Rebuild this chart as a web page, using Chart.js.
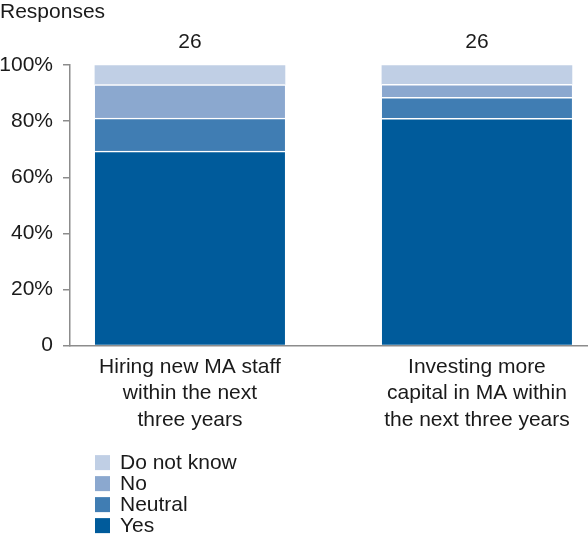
<!DOCTYPE html>
<html>
<head>
<meta charset="utf-8">
<script src="https://cdn.jsdelivr.net/npm/chart.js@4.4.0/dist/chart.umd.min.js"></script>
<style>
  html, body { margin: 0; padding: 0; background: #fff; }
  #wrap { width: 588px; height: 535px; }
</style>
</head>
<body>
<div id="wrap"><canvas id="responsesChart"></canvas></div>
<script>
// DATA
const categories = [
  ['Hiring new MA staff', 'within the next', 'three years'],
  ['Investing more', 'capital in MA within', 'the next three years']
];
const respondents = [26, 26];
const yesValues = [69.4, 81.0];
const neutralValues = [11.7, 7.5];
const noValues = [12.0, 4.7];
const dontKnowValues = [6.9, 6.8];
const yTicks = [0, 20, 40, 60, 80, 100];

const FONT = 'Liberation Sans';
const SIZE = 21;
const TEXT = '#1a1a1a';
const AXIS = '#8c8c8c';
const sep = {top: 1.5, left: 0, right: 0, bottom: 0};

function points(values) {
  return values.map((v, i) => ({x: i, y: v}));
}

// "26" above each bar
const totalLabels = {
  id: 'totalLabels',
  afterDatasetsDraw(chart) {
    const ctx = chart.ctx;
    const meta = chart.getDatasetMeta(chart.data.datasets.length - 1);
    ctx.save();
    ctx.font = SIZE + 'px "' + FONT + '"';
    ctx.fillStyle = TEXT;
    ctx.textAlign = 'center';
    ctx.textBaseline = 'middle';
    meta.data.forEach((bar, i) => {
      ctx.fillText(String(respondents[i]), bar.x, bar.y - 23);
    });
    ctx.restore();
  }
};

// legend stacked one item per row, below the axis labels
const stackedLegend = {
  id: 'stackedLegend',
  afterDraw(chart) {
    const ctx = chart.ctx;
    const sets = chart.data.datasets.slice().reverse();
    ctx.save();
    ctx.font = SIZE + 'px "' + FONT + '"';
    ctx.textAlign = 'left';
    ctx.textBaseline = 'middle';
    sets.forEach((ds, i) => {
      const y = chart.chartArea.bottom + 117 + i * 21;
      ctx.fillStyle = ds.backgroundColor;
      ctx.fillRect(95, y - 7.5, 15, 15);
      ctx.fillStyle = TEXT;
      ctx.fillText(ds.label, 120, y + 1);
    });
    ctx.restore();
  }
};

const data = {
  datasets: [
    {label: 'Yes', data: points(yesValues), backgroundColor: '#005B9B', borderColor: '#ffffff', borderWidth: sep},
    {label: 'Neutral', data: points(neutralValues), backgroundColor: '#407DB3', borderColor: '#ffffff', borderWidth: sep},
    {label: 'No', data: points(noValues), backgroundColor: '#8BA8CF', borderColor: '#ffffff', borderWidth: sep},
    {label: 'Do not know', data: points(dontKnowValues), backgroundColor: '#C0CFE5', borderWidth: 0}
  ]
};

const config = {
  type: 'bar',
  data: data,
  plugins: [totalLabels, stackedLegend],
  options: {
    responsive: true,
    maintainAspectRatio: false,
    animation: false,
    barThickness: 190,
    layout: {padding: {top: 0, right: 0, bottom: 94, left: 0}},
    plugins: {
      legend: {display: false},
      tooltip: {enabled: false},
      title: {
        display: true,
        text: 'Responses',
        align: 'start',
        color: TEXT,
        font: {family: FONT, size: SIZE, weight: 'normal', lineHeight: 1.15},
        padding: {top: 0, bottom: 41}
      }
    },
    scales: {
      x: {
        type: 'linear',
        stacked: true,
        offset: false,
        min: -0.418,
        max: 1.387,
        afterBuildTicks: s => { s.ticks = categories.map((c, i) => ({value: i})); },
        ticks: {
          autoSkip: false,
          maxRotation: 0,
          padding: 8,
          color: TEXT,
          font: {family: FONT, size: SIZE, lineHeight: 1.26},
          callback: v => categories[v]
        },
        grid: {display: false, drawTicks: false},
        border: {display: true, color: AXIS, width: 1.5}
      },
      y: {
        stacked: true,
        min: 0,
        max: 100,
        afterBuildTicks: s => { s.ticks = yTicks.map(v => ({value: v})); },
        afterFit: s => { s.width = 70; },
        ticks: {
          padding: 10,
          color: TEXT,
          font: {family: FONT, size: SIZE},
          callback: v => v === 0 ? '0' : v + '%'
        },
        grid: {drawOnChartArea: false, drawTicks: true, tickLength: 7, color: AXIS, lineWidth: 1.5},
        border: {display: true, color: AXIS, width: 1.5}
      }
    }
  }
};

const responsesChart = new Chart(document.getElementById('responsesChart'), config);
</script>
</body>
</html>
